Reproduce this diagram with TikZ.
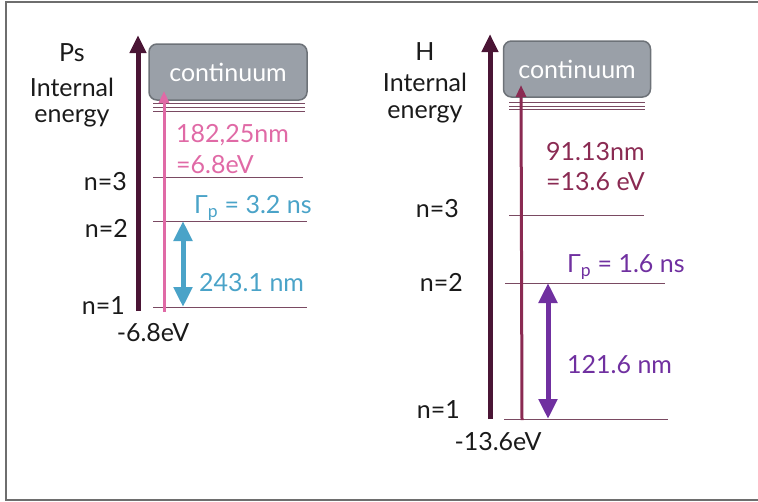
\documentclass[tikz,border=0pt]{standalone}
\usepackage{fontspec}
\setmainfont{Lato}
\usetikzlibrary{arrows.meta}
\definecolor{axiscol}{HTML}{4A1535}
\definecolor{levelcol}{HTML}{7A4A62}
\definecolor{pinkcol}{HTML}{E06AA6}
\definecolor{bluecol}{HTML}{4AA3C8}
\definecolor{purplecol}{HTML}{7030A0}
\definecolor{maroncol}{HTML}{8A2A52}
\definecolor{boxfill}{HTML}{9AA0A8}
\definecolor{boxdraw}{HTML}{6D7278}
\definecolor{framecol}{HTML}{6E6E6E}
\definecolor{textcol}{HTML}{1A1A1A}
\begin{document}
\begin{tikzpicture}[x=1pt,y=-1pt,
  txt/.style={font=\fontsize{25}{29}\selectfont, inner sep=0pt, text=textcol},
  axisarrow/.style={draw=axiscol, line width=5pt, -{Triangle[width=16pt,length=18pt]}},
  level/.style={draw=levelcol, line width=1pt},
  contbox/.style={draw=boxdraw, fill=boxfill, line width=1.5pt, rounded corners=8pt, minimum width=#1, minimum height=56pt, text=white, font=\fontsize{25}{29}\selectfont, inner sep=0pt},
  thinarrow/.style={line width=3pt, -{Triangle[width=10pt,length=12pt]}},
  dblarrow/.style={line width=5pt, {Triangle[width=18pt,length=20pt]}-{Triangle[width=18pt,length=20pt]}}
]
\useasboundingbox (0,0) rectangle (758,501);
\draw[framecol, line width=2pt] (780,1.5) -- (5.5,1.5) -- (5.5,499.5) -- (780,499.5);

% ---------- Ps ----------
\coordinate (psaxB) at (138,311);
\coordinate (psaxT) at (138,35);
\draw[axisarrow] (psaxB) -- (psaxT);
\node[contbox=158pt] (pscont) at (228,72) {continuum};
\foreach \yy in {103,107,111} \draw[level] (153,\yy) -- (305,\yy);
\coordinate (ps3a) at (153,177); \coordinate (ps3b) at (303,177);
\coordinate (ps2a) at (153,221); \coordinate (ps2b) at (307,221);
\coordinate (ps1a) at (153,307); \coordinate (ps1b) at (307,307);
\draw[level] (ps3a) -- (ps3b);
\draw[level] (ps2a) -- (ps2b);
\draw[level] (ps1a) -- (ps1b);
\coordinate (pspinkB) at (164,312);
\coordinate (pspinkT) at (164,91);
\draw[thinarrow, pinkcol] (pspinkB) -- (pspinkT);
\coordinate (psblB) at (183,307);
\coordinate (psblT) at (183,221);
\draw[dblarrow, bluecol] (psblB) -- (psblT);
\node[txt] (psname) at (72,53) {Ps};
\node[txt] (psint) at (72,87) {Internal};
\node[txt] (psen) at (72,118) {energy};
\node[txt, anchor=east] (psn3) at (127,182) {n=3};
\node[txt, anchor=east] (psn2) at (128,228) {n=2};
\node[txt, anchor=east] (psn1) at (125,306) {n=1};
\node[txt] (psev) at (153,333) {-6.8eV};
\node[txt, anchor=west, text=pinkcol] (pswl) at (176,135) {182,25nm};
\node[txt, anchor=west, text=pinkcol] (pseq) at (176,165) {=6.8eV};
\node[txt, anchor=west, text=bluecol] (psgam) at (194,208) {Γ\textsubscript{p} = 3.2 ns};
\node[txt, anchor=west, text=bluecol] (psnm) at (199,283) {243.1 nm};

% ---------- H ----------
\coordinate (haxB) at (490,419);
\coordinate (haxT) at (490,34);
\draw[axisarrow] (haxB) -- (haxT);
\node[contbox=147pt] (hcont) at (577,69) {continuum};
\foreach \yy in {102,106,109} \draw[level] (509,\yy) -- (645,\yy);
\coordinate (h3a) at (509,215); \coordinate (h3b) at (644,215);
\coordinate (h2a) at (505,283); \coordinate (h2b) at (665,283);
\coordinate (h1a) at (504,419); \coordinate (h1b) at (668,419);
\draw[level] (h3a) -- (h3b);
\draw[level] (h2a) -- (h2b);
\draw[level] (h1a) -- (h1b);
\coordinate (hmB) at (522,420);
\coordinate (hmT) at (521,85);
\draw[thinarrow, maroncol] (hmB) -- (hmT);
\coordinate (hpB) at (548,419);
\coordinate (hpT) at (548,283);
\draw[dblarrow, purplecol] (hpB) -- (hpT);
\node[txt] (hname) at (425,52) {H};
\node[txt] (hint) at (425,82) {Internal};
\node[txt] (hen) at (425,114) {energy};
\node[txt, anchor=east] (hn3) at (459,209) {n=3};
\node[txt, anchor=east] (hn2) at (463,282) {n=2};
\node[txt, anchor=east] (hn1) at (460,410) {n=1};
\node[txt] (hev) at (498,442) {-13.6eV};
\node[txt, anchor=west, text=maroncol] (hwl) at (546,152) {91.13nm};
\node[txt, anchor=west, text=maroncol] (heq) at (546,182) {=13.6 eV};
\node[txt, anchor=west, text=purplecol] (hgam) at (567,267) {Γ\textsubscript{p} = 1.6 ns};
\node[txt, anchor=west, text=purplecol] (hnm) at (567,365) {121.6 nm};
\end{tikzpicture}
\end{document}
